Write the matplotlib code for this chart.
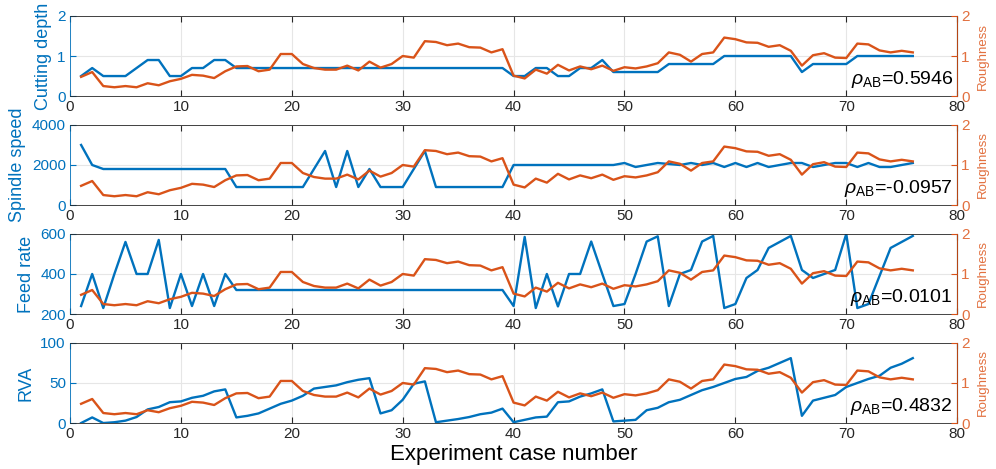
import matplotlib.pyplot as plt
import numpy as np

plt.rcParams["font.family"] = ["Liberation Sans", "DejaVu Sans"]
plt.rcParams["mathtext.fontset"] = "custom"
plt.rcParams["mathtext.rm"] = "Liberation Sans"
plt.rcParams["mathtext.it"] = "Liberation Sans:italic"

BLUE = "#0072BD"
ORANGE = "#D95319"

case = np.arange(1, 77)

roughness = [0.48, 0.60, 0.25, 0.22, 0.25, 0.22, 0.32, 0.27, 0.37, 0.43,
             0.53, 0.51, 0.45, 0.62, 0.74, 0.75, 0.62, 0.66, 1.05, 1.05,
             0.80, 0.70, 0.66, 0.66, 0.76, 0.64, 0.86, 0.71, 0.80, 1.00,
             0.96, 1.37, 1.35, 1.27, 1.31, 1.22, 1.21, 1.09, 1.17, 0.51,
             0.44, 0.66, 0.56, 0.78, 0.64, 0.74, 0.67, 0.76, 0.63, 0.72,
             0.69, 0.74, 0.82, 1.09, 1.03, 0.86, 1.05, 1.09, 1.46, 1.42,
             1.34, 1.33, 1.23, 1.27, 1.13, 0.76, 1.02, 1.07, 0.96, 0.95,
             1.31, 1.29, 1.14, 1.09, 1.13, 1.09]

cutting_depth = [0.5, 0.7, 0.5, 0.5, 0.5, 0.7, 0.9, 0.9, 0.5, 0.5,
                 0.7, 0.7, 0.9, 0.9, 0.7, 0.7, 0.7, 0.7, 0.7, 0.7,
                 0.7, 0.7, 0.7, 0.7, 0.7, 0.7, 0.7, 0.7, 0.7, 0.7,
                 0.7, 0.7, 0.7, 0.7, 0.7, 0.7, 0.7, 0.7, 0.7, 0.5,
                 0.5, 0.7, 0.7, 0.5, 0.5, 0.7, 0.7, 0.9, 0.6, 0.6,
                 0.6, 0.6, 0.6, 0.8, 0.8, 0.8, 0.8, 0.8, 1.0, 1.0,
                 1.0, 1.0, 1.0, 1.0, 1.0, 0.6, 0.8, 0.8, 0.8, 0.8,
                 1.0, 1.0, 1.0, 1.0, 1.0, 1.0]

spindle_speed = [3000, 2000, 1800, 1800, 1800, 1800, 1800, 1800, 1800, 1800,
                 1800, 1800, 1800, 1800, 900, 900, 900, 900, 900, 900,
                 900, 1800, 2700, 900, 2700, 900, 1800, 900, 900, 900,
                 1800, 2700, 900, 900, 900, 900, 900, 900, 900, 2000,
                 2000, 2000, 2000, 2000, 2000, 2000, 2000, 2000, 2000, 2100,
                 1900, 2000, 2100, 2050, 2000, 2100, 2000, 2100, 1900, 2100,
                 1900, 2100, 1900, 2000, 2100, 2100, 1900, 2000, 2100, 2100,
                 1900, 2100, 1900, 1900, 2000, 2100]

feed_rate = [240, 400, 230, 400, 560, 400, 400, 570, 230, 400,
             240, 400, 240, 400, 320, 320, 320, 320, 320, 320,
             320, 320, 320, 320, 320, 320, 320, 320, 320, 320,
             320, 320, 320, 320, 320, 320, 320, 320, 320, 240,
             585, 230, 400, 238, 400, 400, 562, 400, 240, 250,
             400, 562, 588, 240, 400, 420, 562, 590, 230, 250,
             380, 420, 530, 560, 590, 420, 380, 400, 420, 600,
             230, 250, 390, 530, 560, 590]

rva = [0, 7, 0, 1, 3, 7.5, 17, 20, 26, 27,
       31.5, 34, 39.5, 42, 7, 9, 12, 18, 24, 28,
       34, 43, 45, 47, 51, 54, 56, 12, 16, 29,
       49, 52, 1, 3, 5, 7.5, 11, 13, 18, 1,
       4, 7, 8, 26, 27, 33, 37, 42, 2, 3,
       4, 16, 19, 26, 29, 35, 41, 45, 50, 55,
       57.5, 65, 69, 75, 81, 9, 28, 31.5, 35, 45,
       50, 55, 59, 69, 74, 81]

panels = [
    ("Cutting depth", cutting_depth, (0, 2), [0, 1, 2], "0.5946"),
    ("Spindle speed", spindle_speed, (0, 4000), [0, 2000, 4000], "-0.0957"),
    ("Feed rate", feed_rate, (200, 600), [200, 400, 600], "0.0101"),
    ("RVA", rva, (0, 100), [0, 50, 100], "0.4832"),
]

fig, axes = plt.subplots(4, 1, figsize=(9.96, 4.69), dpi=100)
fig.subplots_adjust(left=0.0703, right=0.961, top=0.966, bottom=0.098, hspace=0.36)

for ax, (label, vals, ylim, yticks, rho) in zip(axes, panels):
    ax.plot(case, vals, color=BLUE, lw=1.7)
    ax.set_xlim(0, 80)
    ax.set_xticks(np.arange(0, 81, 10))
    ax.set_ylim(*ylim)
    ax.set_yticks(yticks)
    ax.set_ylabel(label, color=BLUE, fontsize=13, labelpad=4)
    ax.grid(True, color="#e6e6e6", lw=0.8)
    ax.set_axisbelow(True)
    ax.tick_params(axis="x", direction="in", top=True, length=4, labelsize=11,
                   color="#262626", labelcolor="#262626", pad=3)
    ax.tick_params(axis="y", direction="in", length=4, labelsize=11,
                   color=BLUE, labelcolor=BLUE, pad=3)
    for s in ["top", "bottom"]:
        ax.spines[s].set_color("#262626")
        ax.spines[s].set_linewidth(0.6)
    ax.spines["left"].set_color(BLUE)
    ax.spines["left"].set_linewidth(0.6)

    ax2 = ax.twinx()
    ax2.plot(case, roughness, color=ORANGE, lw=1.7)
    ax2.set_ylim(0, 2)
    ax2.set_yticks([0, 1, 2])
    ax2.set_ylabel("Roughness", color="#E2703F", fontsize=9.5, labelpad=5)
    ax2.tick_params(axis="y", direction="in", length=4, labelsize=11,
                    color=ORANGE, labelcolor="#E2703F", pad=3)
    ax2.spines["right"].set_color(ORANGE)
    ax2.spines["right"].set_linewidth(0.6)
    ax2.spines["left"].set_visible(False)
    ax2.spines["top"].set_visible(False)
    ax2.spines["bottom"].set_visible(False)

    ax2.text(0.995, 0.07, r"$\rho_{\mathrm{AB}}$=" + rho, transform=ax2.transAxes,
             ha="right", va="bottom", fontsize=14, color="black")

axes[-1].set_xlabel("Experiment case number", fontsize=16, labelpad=2)

plt.savefig("out.png", dpi=100)
